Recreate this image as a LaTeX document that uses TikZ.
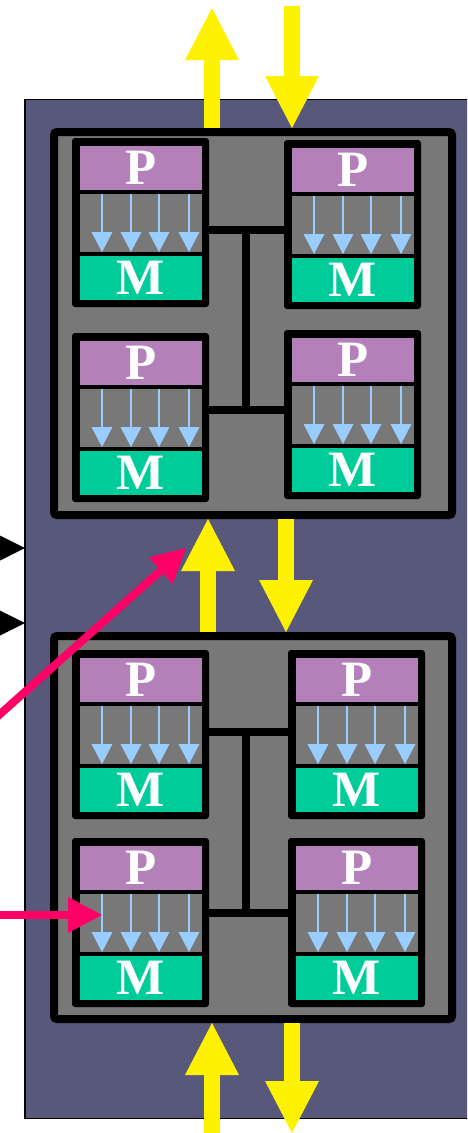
\documentclass[tikz,border=0pt]{standalone}
\usepackage{fontspec}
\setmainfont{Liberation Serif}
\usetikzlibrary{arrows.meta}

\definecolor{rackfill}{RGB}{88,88,122}
\definecolor{board}{RGB}{120,120,120}
\definecolor{proc}{RGB}{179,128,186}
\definecolor{mem}{RGB}{0,204,153}
\definecolor{flow}{RGB}{153,204,255}
\definecolor{link}{RGB}{255,0,102}

\tikzset{
  module/.style={draw=black, line width=8pt, fill=board, rounded corners=3pt,
    minimum width=398pt, minimum height=383pt, inner sep=0pt, outer sep=4pt,
    anchor=north west},
  unitbox/.style={fill=black, rounded corners=3pt, minimum width=137pt,
    minimum height=169pt, inner sep=0pt, outer sep=0pt, anchor=north west},
  pbox/.style={fill=proc, minimum width=122pt, minimum height=44pt,
    inner sep=0pt, outer sep=0pt, anchor=north west, text=white,
    font=\bfseries\fontsize{51}{51}\selectfont},
  mbox/.style={pbox, fill=mem},
  abox/.style={fill=board, minimum width=122pt, minimum height=58pt,
    inner sep=0pt, outer sep=0pt, anchor=north west},
  flowarrow/.style={draw=flow, line width=1.5pt,
    -{Triangle[length=20pt,width=21pt,line width=0pt]}},
  bus/.style={draw=black, line width=8pt},
  yellowarrow/.style={draw=yellow, line width=16pt,
    -{Triangle[length=52pt,width=54pt,line width=0pt]}},
  pinkarrow/.style={draw=link, line width=8pt,
    -{Triangle[length=34pt,width=36pt,line width=0pt]}},
  blackarrow/.style={draw=black, line width=2pt,
    -{Triangle[length=30pt,width=30pt,line width=0pt]}}
}

% one processor/memory unit: name, x, y of its top-left corner
\newcommand\pmunit[3]{%
  \node[unitbox] (#1) at (#2,#3) {};
  \node[pbox] (#1p) at (#2+8,#3+8) {P};
  \node[abox] (#1a) at (#2+8,#3+56) {};
  \node[mbox] (#1m) at (#2+8,#3+118) {M};
  \foreach \dx in {22,51,79,109}
    \draw[flowarrow] ([xshift=\dx pt]#1a.north west) -- ([xshift=\dx pt]#1a.south west);
}

\begin{document}
\begin{tikzpicture}[x=1pt,y=-1pt]
  \useasboundingbox (0,0) rectangle (467,1133);
  \clip (0,0) rectangle (467,1133);

  % cabinet
  \draw[fill=rackfill, line width=1.5pt] (25,99.5) rectangle (490,1118.5);

  % two boards
  \node[module] (mtop) at (50,128) {};
  \node[module] (mbot) at (50,632) {};

  % units on the upper board
  \pmunit{ua}{72}{138}
  \pmunit{ub}{284}{140}
  \pmunit{uc}{72}{333}
  \pmunit{ud}{284}{330}

  % units on the lower board
  \pmunit{la}{72}{650}
  \pmunit{lb}{288}{650}
  \pmunit{lc}{72}{838}
  \pmunit{ld}{288}{838}

  % board buses
  \coordinate (tj1) at (246,230);
  \coordinate (tj2) at (246,410);
  \draw[bus] (ua.east |- tj1) -- (ub.west |- tj1);
  \draw[bus] ([yshift=4pt]tj1) -- ([yshift=-4pt]tj2);
  \draw[bus] (uc.east |- tj2) -- (ud.west |- tj2);

  \coordinate (bj1) at (246,732);
  \coordinate (bj2) at (246,913);
  \draw[bus] (la.east |- bj1) -- (lb.west |- bj1);
  \draw[bus] ([yshift=4pt]bj1) -- ([yshift=-4pt]bj2);
  \draw[bus] (lc.east |- bj2) -- (ld.west |- bj2);

  % traffic in and out of the boards
  \coordinate (outtop) at (212,8);
  \coordinate (intop) at (292,6);
  \coordinate (upmid) at (208,0);
  \coordinate (downmid) at (286,0);
  \coordinate (inbot) at (212,1145);
  \coordinate (outbot) at (292,1133);
  \draw[yellowarrow] (outtop |- mtop.north) -- (outtop);
  \draw[yellowarrow] (intop) -- (intop |- mtop.north);
  \draw[yellowarrow] (upmid |- mbot.north) -- (upmid |- mtop.south);
  \draw[yellowarrow] (downmid |- mtop.south) -- (downmid |- mbot.north);
  \draw[yellowarrow] (inbot) -- (inbot |- mbot.south);
  \draw[yellowarrow] (outbot |- mbot.south) -- (outbot);

  % external links
  \coordinate (linkA) at (-20,732);
  \coordinate (tipA) at (186,548);
  \draw[pinkarrow] (linkA) -- (tipA);
  \coordinate (linkB) at (-20,915);
  \draw[pinkarrow] (linkB) -- ([xshift=22pt]lca.west |- linkB);

  \coordinate (extA) at (-40,548);
  \coordinate (extB) at (-40,623);
  \draw[blackarrow] (extA) -- (25,548);
  \draw[blackarrow] (extB) -- (25,623);
\end{tikzpicture}
\end{document}
